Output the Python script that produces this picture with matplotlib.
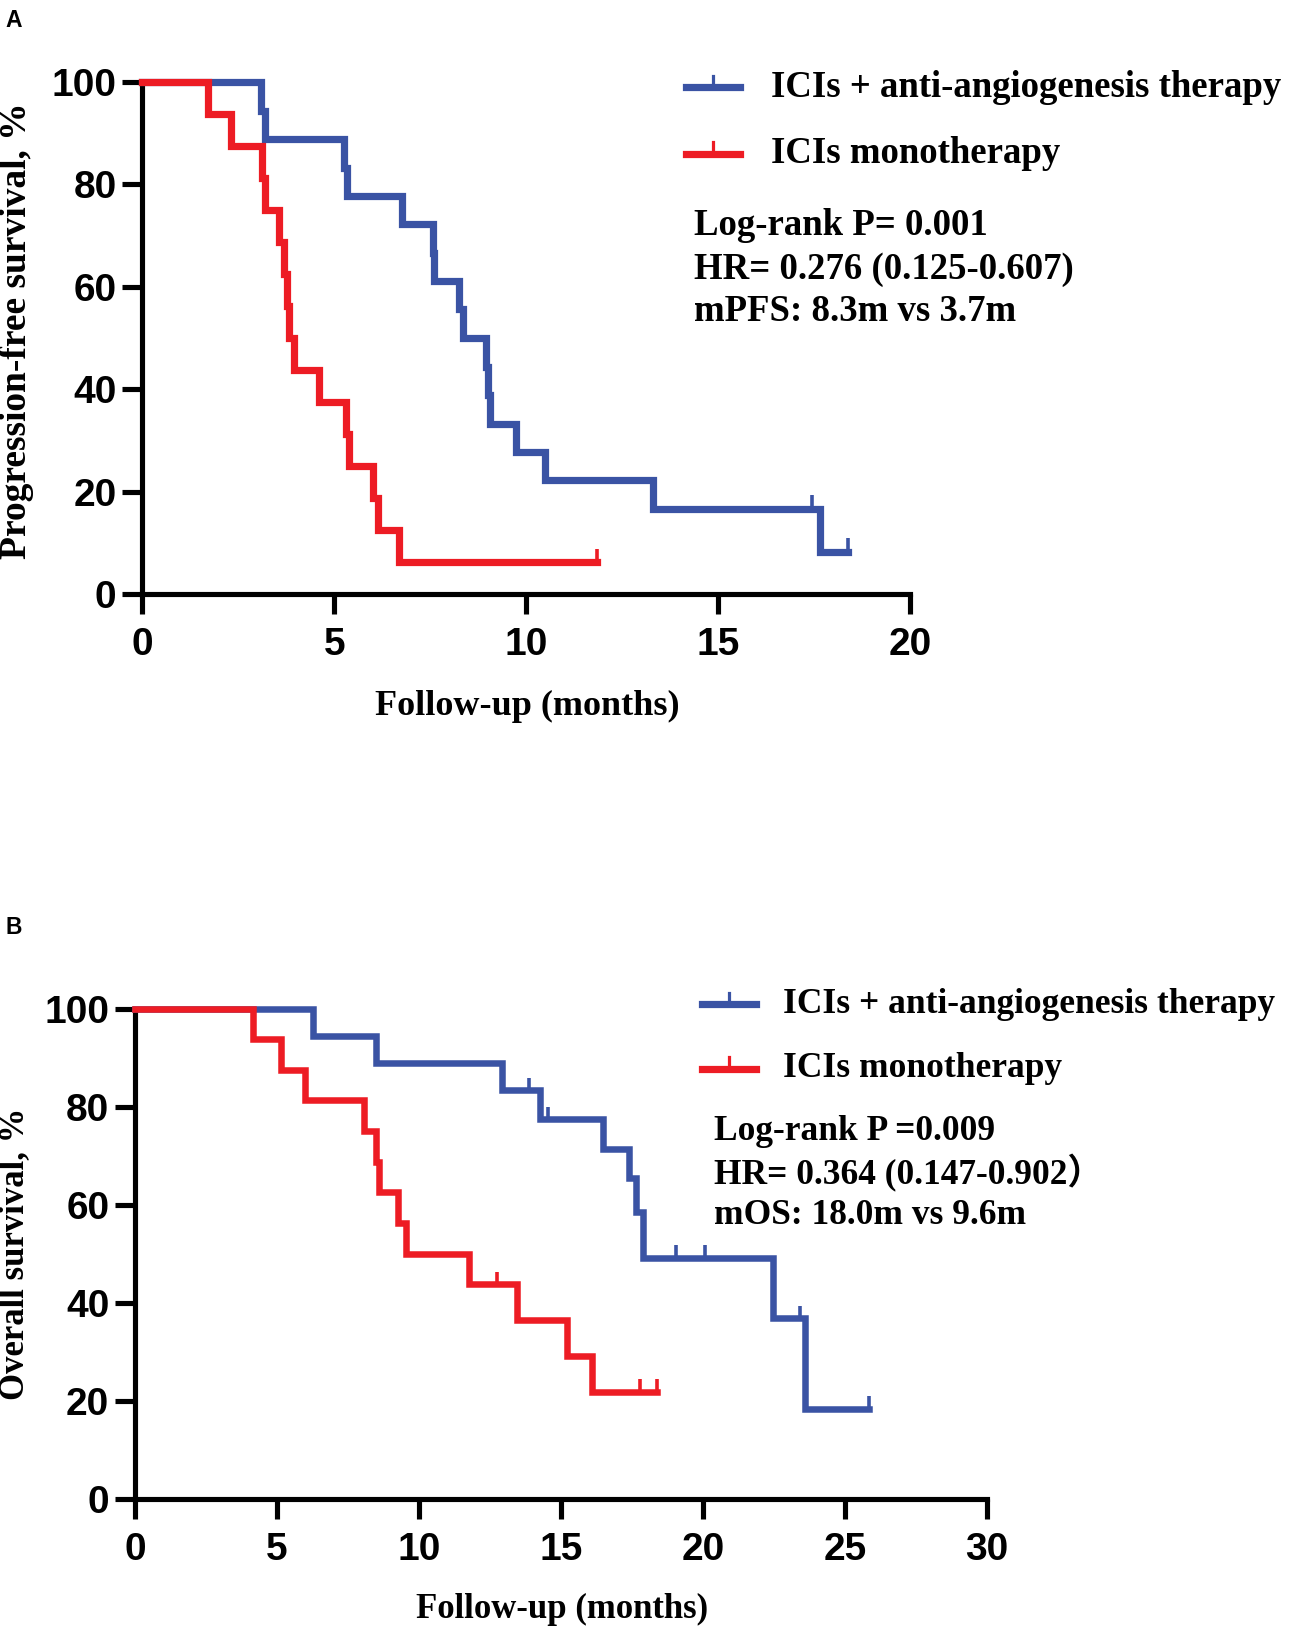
import matplotlib
matplotlib.use('Agg')
import matplotlib.pyplot as plt
from matplotlib.lines import Line2D

W, H = 1289, 1628
S = 1289 / 1241  # positions below were measured on a 1241 px wide view
BLUE = '#3A53A4'
RED = '#ED1C24'

# ---- Panel A: progression-free survival ----
pfs_combo_t = [0, 3.1, 3.2, 5.25, 5.34, 6.77, 7.57, 7.6, 8.26, 8.35, 8.96, 9.0, 9.07,
               9.75, 10.48, 13.3, 17.67, 18.4]
pfs_combo_s = [100, 94.4, 88.9, 83.3, 77.8, 72.2, 66.7, 61.1, 55.6, 50.0, 44.4, 38.9, 33.3,
               27.8, 22.2, 16.7, 8.3, 8.3]
pfs_combo_cens_t = [17.44, 18.4]
pfs_combo_cens_s = [16.7, 8.3]

pfs_mono_t = [0, 1.71, 2.3, 3.11, 3.2, 3.55, 3.68, 3.77, 3.81, 3.94, 4.6, 5.3, 5.39,
              6.02, 6.13, 6.7, 11.85]
pfs_mono_s = [100, 93.75, 87.5, 81.25, 75, 68.75, 62.5, 56.25, 50, 43.75, 37.5, 31.25, 25,
              18.75, 12.5, 6.25, 6.25]
pfs_mono_cens_t = [11.85]
pfs_mono_cens_s = [6.25]

# ---- Panel B: overall survival ----
os_combo_t = [0, 6.26, 8.49, 12.94, 14.25, 16.47, 17.41, 17.65, 17.88, 22.47, 23.59, 25.85]
os_combo_s = [100, 94.4, 88.9, 83.3, 77.4, 71.4, 65.5, 58.5, 49.1, 36.8, 18.4, 18.4]
os_combo_cens_t = [13.87, 14.54, 19.06, 20.06, 23.41, 25.85]
os_combo_cens_s = [83.3, 77.4, 49.1, 49.1, 36.8, 18.4]

os_mono_t = [0, 4.16, 5.15, 5.97, 8.08, 8.49, 8.6, 9.25, 9.54, 11.77, 13.47, 15.22, 16.1, 18.4]
os_mono_s = [100, 93.75, 87.5, 81.25, 75, 68.75, 62.5, 56.25, 50, 43.75, 36.46, 29.17,
             21.88, 21.88]
os_mono_cens_t = [12.76, 17.8, 18.4]
os_mono_cens_s = [43.75, 21.88, 21.88]

legend_labels = ['ICIs + anti-angiogenesis therapy', 'ICIs monotherapy']
stats_a = ['Log-rank P= 0.001', 'HR= 0.276 (0.125-0.607)', 'mPFS: 8.3m vs 3.7m']
stats_b = ['Log-rank P =0.009', 'HR= 0.364 (0.147-0.902\uff09', 'mOS: 18.0m vs 9.6m']

SANS = 'Liberation Sans'
SERIF = ['Liberation Serif', 'Noto Sans CJK SC']


def fx(x):
    return x * S / W


def fy(y):
    return 1 - y * S / H


def km_panel(ax, curves, xmax, xstep, lw):
    for t, s, ct, cs, col in curves:
        ax.step(t, s, where='post', color=col, lw=lw, clip_on=False,
                solid_joinstyle='miter', zorder=3)
        ax.vlines(ct, cs, [v + 2.6 for v in cs], color=col, lw=2.6, clip_on=False, zorder=3)
    ax.set_xlim(0, xmax)
    ax.set_ylim(0, 100)
    ax.set_xticks(range(0, xmax + 1, xstep))
    ax.set_yticks(range(0, 101, 20))
    for side in ['top', 'right']:
        ax.spines[side].set_visible(False)
    for side in ['left', 'bottom']:
        ax.spines[side].set_linewidth(3.7)
        ax.spines[side].set_capstyle('projecting')
    ax.tick_params(axis='both', length=14.5, width=3.7, direction='out')
    ax.tick_params(axis='y', pad=4)
    ax.tick_params(axis='x', pad=9.5)
    for lab in ax.get_xticklabels() + ax.get_yticklabels():
        lab.set_fontfamily(SANS)
        lab.set_fontweight('bold')
        lab.set_fontsize(28)


def legend_and_stats(fig, x_line, x_text, ys, x_stats, ys_stats, stats, fs):
    for y, col, lab in zip(ys, [BLUE, RED], legend_labels):
        fig.add_artist(Line2D([fx(x_line), fx(x_line + 52)], [fy(y), fy(y)],
                              color=col, lw=5.2, transform=fig.transFigure))
        xm = x_line + 26
        fig.add_artist(Line2D([fx(xm), fx(xm)], [fy(y), fy(y - 11)],
                              color=col, lw=2.3, transform=fig.transFigure))
        fig.text(fx(x_text), fy(y), lab, family=SERIF, weight='bold', fontsize=fs,
                 va='center', ha='left')
    for y, s in zip(ys_stats, stats):
        fig.text(fx(x_stats), fy(y), s, family=SERIF, weight='bold', fontsize=fs,
                 va='center', ha='left')


fig = plt.figure(figsize=(W / 100, H / 100), dpi=100)

# panel A
axa = fig.add_axes([fx(137), fy(572), (876 - 137) * S / W, (572 - 79) * S / H])
km_panel(axa, [(pfs_combo_t, pfs_combo_s, pfs_combo_cens_t, pfs_combo_cens_s, BLUE),
               (pfs_mono_t, pfs_mono_s, pfs_mono_cens_t, pfs_mono_cens_s, RED)],
         20, 5, 5.2)
fig.text(fx(508), fy(680), 'Follow-up (months)', family=SERIF, weight='bold',
         fontsize=26, ha='center', va='center')
fig.text(fx(16), fy(318), 'Progression-free survival, %', family=SERIF, weight='bold',
         fontsize=27, ha='center', va='center', rotation=90)
legend_and_stats(fig, 660, 742, [84, 148], 668, [217, 259, 300], stats_a, 26.5)
fig.text(fx(5), fy(20), 'A', family=SANS, weight='bold', fontsize=16.5, ha='left', va='center')

# panel B
axb = fig.add_axes([fx(130), fy(1443), (950 - 130) * S / W, (1443 - 971) * S / H])
km_panel(axb, [(os_combo_t, os_combo_s, os_combo_cens_t, os_combo_cens_s, BLUE),
               (os_mono_t, os_mono_s, os_mono_cens_t, os_mono_cens_s, RED)],
         30, 5, 4.7)
fig.text(fx(541), fy(1550), 'Follow-up (months)', family=SERIF, weight='bold',
         fontsize=25, ha='center', va='center')
fig.text(fx(14), fy(1207), 'Overall survival, %', family=SERIF, weight='bold',
         fontsize=25, ha='center', va='center', rotation=90)
legend_and_stats(fig, 676, 754, [967, 1029], 687, [1089, 1130, 1170], stats_b, 25.5)
fig.text(fx(5), fy(893), 'B', family=SANS, weight='bold', fontsize=16.5, ha='left', va='center')

fig.savefig('out.png', dpi=100)
